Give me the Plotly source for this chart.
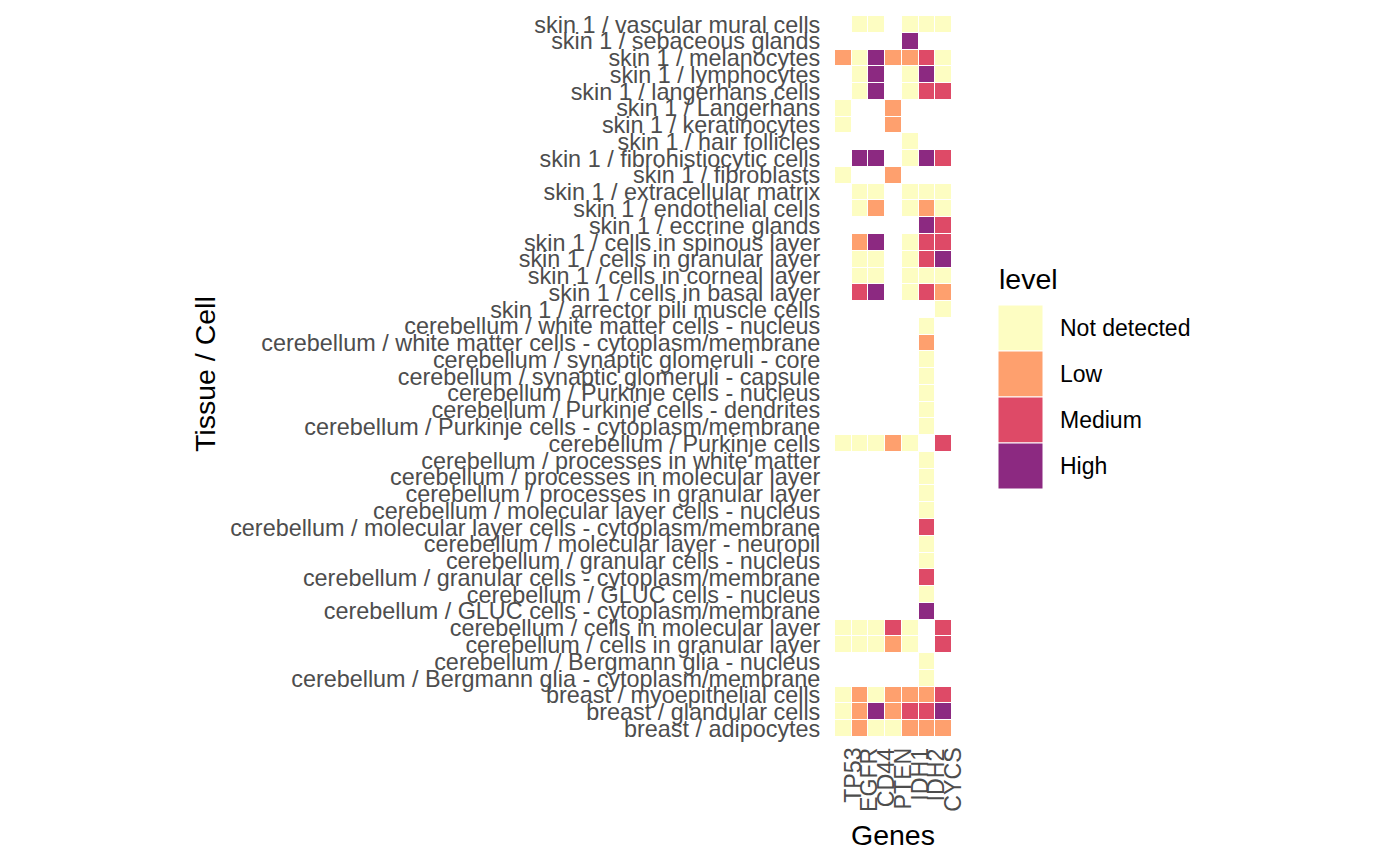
import plotly.graph_objects as go

genes = ["TP53", "EGFR", "CD44", "PTEN", "IDH1", "IDH2", "CYCS"]

tissue_cells = [
    "skin 1 / vascular mural cells",
    "skin 1 / sebaceous glands",
    "skin 1 / melanocytes",
    "skin 1 / lymphocytes",
    "skin 1 / langerhans cells",
    "skin 1 / Langerhans",
    "skin 1 / keratinocytes",
    "skin 1 / hair follicles",
    "skin 1 / fibrohistiocytic cells",
    "skin 1 / fibroblasts",
    "skin 1 / extracellular matrix",
    "skin 1 / endothelial cells",
    "skin 1 / eccrine glands",
    "skin 1 / cells in spinous layer",
    "skin 1 / cells in granular layer",
    "skin 1 / cells in corneal layer",
    "skin 1 / cells in basal layer",
    "skin 1 / arrector pili muscle cells",
    "cerebellum / white matter cells - nucleus",
    "cerebellum / white matter cells - cytoplasm/membrane",
    "cerebellum / synaptic glomeruli - core",
    "cerebellum / synaptic glomeruli - capsule",
    "cerebellum / Purkinje cells - nucleus",
    "cerebellum / Purkinje cells - dendrites",
    "cerebellum / Purkinje cells - cytoplasm/membrane",
    "cerebellum / Purkinje cells",
    "cerebellum / processes in white matter",
    "cerebellum / processes in molecular layer",
    "cerebellum / processes in granular layer",
    "cerebellum / molecular layer cells - nucleus",
    "cerebellum / molecular layer cells - cytoplasm/membrane",
    "cerebellum / molecular layer - neuropil",
    "cerebellum / granular cells - nucleus",
    "cerebellum / granular cells - cytoplasm/membrane",
    "cerebellum / GLUC cells - nucleus",
    "cerebellum / GLUC cells - cytoplasm/membrane",
    "cerebellum / cells in molecular layer",
    "cerebellum / cells in granular layer",
    "cerebellum / Bergmann glia - nucleus",
    "cerebellum / Bergmann glia - cytoplasm/membrane",
    "breast / myoepithelial cells",
    "breast / glandular cells",
    "breast / adipocytes",
]

N, L, M, H, _ = "Not detected", "Low", "Medium", "High", None

# values per gene, rows in the same order as tissue_cells (top to bottom)
TP53 = [_, _, L, _, _, N, N, _, _, N, _, _, _, _, _, _, _, _,
        _, _, _, _, _, _, _, N, _, _, _, _, _, _, _, _, _, _, N, N, _, _, N, N, N]
EGFR = [N, _, N, N, N, _, _, _, H, _, N, N, _, L, N, N, M, _,
        _, _, _, _, _, _, _, N, _, _, _, _, _, _, _, _, _, _, N, N, _, _, L, L, L]
CD44 = [N, _, H, H, H, _, _, _, H, _, N, L, _, H, N, N, H, _,
        _, _, _, _, _, _, _, N, _, _, _, _, _, _, _, _, _, _, N, N, _, _, N, H, N]
PTEN = [_, _, L, _, _, L, L, _, _, L, _, _, _, _, _, _, _, _,
        _, _, _, _, _, _, _, L, _, _, _, _, _, _, _, _, _, _, M, L, _, _, L, L, N]
IDH1 = [N, H, L, N, N, _, _, N, N, _, N, N, _, N, N, N, N, _,
        _, _, _, _, _, _, _, N, _, _, _, _, _, _, _, _, _, _, N, N, _, _, L, M, L]
IDH2 = [N, _, M, H, M, _, _, _, H, _, N, L, H, M, M, N, M, _,
        N, L, N, N, N, N, N, _, N, N, N, N, M, N, N, M, N, H, _, _, N, N, L, M, L]
CYCS = [N, _, N, N, M, _, _, _, M, _, N, N, M, M, H, N, L, N,
        _, _, _, _, _, _, _, M, _, _, _, _, _, _, _, _, _, _, M, M, _, _, M, H, L]

levels = ["Not detected", "Low", "Medium", "High"]
level_colors = ["#FDFDC2", "#FEA06E", "#DE4A67", "#8C2981"]

columns = [TP53, EGFR, CD44, PTEN, IDH1, IDH2, CYCS]
z = []
text = []
for i in range(len(tissue_cells)):
    row_z, row_t = [], []
    for col in columns:
        v = col[i]
        row_z.append(None if v is None else levels.index(v))
        row_t.append("" if v is None else v)
    z.append(row_z)
    text.append(row_t)

colorscale = []
n = len(levels)
for k, c in enumerate(level_colors):
    colorscale.append([k / n, c])
    colorscale.append([(k + 1) / n, c])

fig = go.Figure(go.Heatmap(
    z=z, x=genes, y=tissue_cells, text=text,
    colorscale=colorscale, zmin=-0.5, zmax=n - 0.5,
    showscale=False, xgap=1, ygap=1,
    hovertemplate="%{y}<br>%{x}: %{text}<extra></extra>",
))

W, Hh = 1400, 865
PL, PR, PT, PB = 835, 952, 16, 737


def pxx(X):
    return (X - PL) / (PR - PL)


def pxy(Y):
    return (PB - Y) / (PB - PT)


FONT = "Liberation Sans, Arial, sans-serif"

fig.update_layout(
    width=W, height=Hh,
    margin=dict(l=PL, r=W - PR, t=PT, b=Hh - PB, pad=0),
    paper_bgcolor="white", plot_bgcolor="white",
    font=dict(family=FONT),
    xaxis=dict(
        showgrid=False, zeroline=False, showline=False,
        showticklabels=False, ticks="",
        range=[-0.5, len(genes) - 0.5], autorange=False,
    ),
    yaxis=dict(
        showgrid=False, zeroline=False, showline=False,
        range=[len(tissue_cells) - 0.5, -0.5], autorange=False,
        tickmode="array", tickvals=tissue_cells, ticktext=tissue_cells,
        tickfont=dict(size=23.4, color="#4D4D4D"),
        ticks="outside", ticklen=9, tickcolor="rgba(0,0,0,0)",
    ),
    showlegend=False,
)

annotations = [
    dict(text="Tissue / Cell", x=pxx(205), y=pxy(374), xref="paper", yref="paper",
         textangle=-90, showarrow=False, xanchor="center", yanchor="middle",
         font=dict(size=28.5, color="black", family=FONT)),
    dict(text="Genes", x=pxx(893), y=pxy(835), xref="paper", yref="paper",
         showarrow=False, xanchor="center", yanchor="middle",
         font=dict(size=28.5, color="black", family=FONT)),
    dict(text="level", x=pxx(997), y=pxy(279), xref="paper", yref="paper",
         showarrow=False, xanchor="left", yanchor="middle",
         font=dict(size=28.5, color="black", family=FONT)),
]
# gene tick labels (rotated, left edge near column centre as in ggplot vjust=1)
for g in genes:
    annotations.append(dict(text=g, x=g, xref="x", y=pxy(746), yref="paper",
                            textangle=-90, showarrow=False, xanchor="left",
                            yanchor="top", xshift=-6,
                            font=dict(size=23.2, color="#4D4D4D", family=FONT)))

shapes = []
key_top = 305
key_h = 46
for k, (lev, c) in enumerate(zip(levels, level_colors)):
    y0 = key_top + k * key_h
    shapes.append(dict(type="rect", xref="paper", yref="paper",
                       x0=pxx(998), x1=pxx(1043), y0=pxy(y0), y1=pxy(y0 + key_h),
                       fillcolor=c, line=dict(color="white", width=1)))
    annotations.append(dict(text=lev, x=pxx(1058), y=pxy(y0 + key_h / 2),
                            xref="paper", yref="paper", showarrow=False,
                            xanchor="left", yanchor="middle",
                            font=dict(size=23, color="black", family=FONT)))

fig.update_layout(annotations=annotations, shapes=shapes)
fig.write_html("out.html")
